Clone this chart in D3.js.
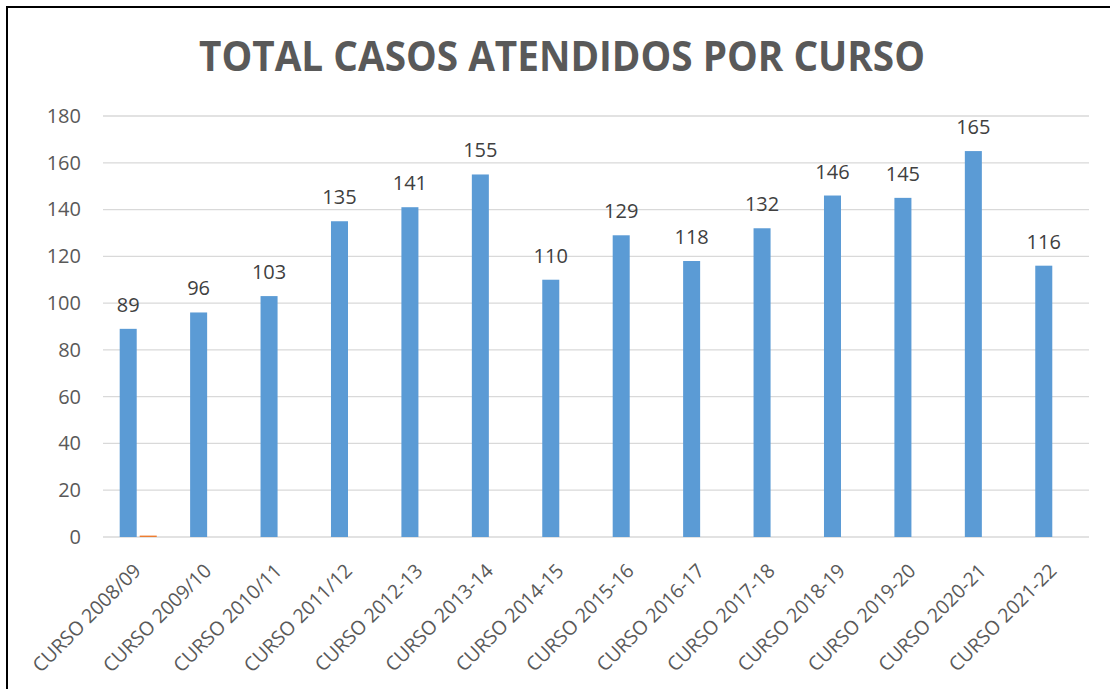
<!DOCTYPE html>
<html>
<head>
<meta charset="utf-8">
<script src="https://cdn.jsdelivr.net/npm/d3@7"></script>
<style>
  html, body { margin: 0; padding: 0; background: #fff; }
  svg { display: block; }
</style>
</head>
<body>
<script>
const categories = ["CURSO 2008/09","CURSO 2009/10","CURSO 2010/11","CURSO 2011/12","CURSO 2012-13","CURSO 2013-14","CURSO 2014-15","CURSO 2015-16","CURSO 2016-17","CURSO 2017-18","CURSO 2018-19","CURSO 2019-20","CURSO 2020-21","CURSO 2021-22"];
const seriesTotal = [89,96,103,135,141,155,110,129,118,132,146,145,165,116];
const seriesSecond = [0.6,null,null,null,null,null,null,null,null,null,null,null,null,null];
const yTicks = [0,20,40,60,80,100,120,140,160,180];
const titleText = "TOTAL CASOS ATENDIDOS POR CURSO";

const W = 1110, H = 689;
const svg = d3.select("body").append("svg").attr("width", W).attr("height", H);

// outer border (only left and top visible in frame)
svg.append("rect").attr("x", 7).attr("y", 7).attr("width", 1120).attr("height", 700)
  .attr("fill", "none").attr("stroke", "#000").attr("stroke-width", 2);

const x0 = d3.scaleBand().domain(categories).range([103, 1089]).paddingInner(0.474).paddingOuter(0.237);
const x1 = d3.scaleBand().domain(["a","b"]).range([0, x0.bandwidth()]).paddingInner(0.15);
const y = d3.scaleLinear().domain([0, 180]).range([537, 116]);

// gridlines
svg.append("g").selectAll("line").data(yTicks).join("line")
  .attr("x1", 103).attr("x2", 1089)
  .attr("y1", d => y(d)).attr("y2", d => y(d))
  .attr("stroke", "#d9d9d9").attr("stroke-width", 1.3);

// y axis labels
const yAxis = d3.axisLeft(y).tickValues(yTicks).tickSize(0).tickPadding(0);
const gy = svg.append("g").attr("transform", "translate(81,0)").call(yAxis);
gy.select(".domain").remove();
gy.selectAll("text").attr("font-family", "Open Sans").attr("font-size", 20).attr("fill", "#595959");

// bars
svg.append("g").selectAll("rect").data(categories).join("rect")
  .attr("x", (d) => x0(d) + x1("a"))
  .attr("width", x1.bandwidth())
  .attr("y", (d, i) => y(seriesTotal[i]))
  .attr("height", (d, i) => y(0) - y(seriesTotal[i]))
  .attr("fill", "#5b9bd5");

svg.append("g").selectAll("rect").data(categories.filter((d, i) => seriesSecond[i] != null)).join("rect")
  .attr("x", (d) => x0(d) + x1("b"))
  .attr("width", x1.bandwidth())
  .attr("y", (d) => y(seriesSecond[categories.indexOf(d)]))
  .attr("height", (d) => y(0) - y(seriesSecond[categories.indexOf(d)]))
  .attr("fill", "#ed7d31");

// data labels
svg.append("g").selectAll("text").data(categories).join("text")
  .attr("x", d => x0(d) + x1("a") + x1.bandwidth() / 2)
  .attr("y", (d, i) => y(seriesTotal[i]) - 17)
  .attr("text-anchor", "middle")
  .attr("font-family", "Open Sans").attr("font-size", 20).attr("fill", "#404040")
  .text((d, i) => seriesTotal[i]);

// x labels
svg.append("g").selectAll("text").data(categories).join("text")
  .attr("transform", d => `translate(${x0(d) + x0.bandwidth() / 2 + 4},572) rotate(-45)`)
  .attr("text-anchor", "end")
  .attr("font-family", "Open Sans").attr("font-size", 19.5).attr("fill", "#595959")
  .text(d => d);

// title
svg.append("text")
  .attr("x", 562).attr("y", 71)
  .attr("text-anchor", "middle")
  .attr("font-family", "Open Sans").attr("font-weight", "bold")
  .attr("font-size", 40.5).attr("fill", "#595959")
  .attr("textLength", 726).attr("lengthAdjust", "spacingAndGlyphs")
  .text(titleText);
</script>
</body>
</html>
